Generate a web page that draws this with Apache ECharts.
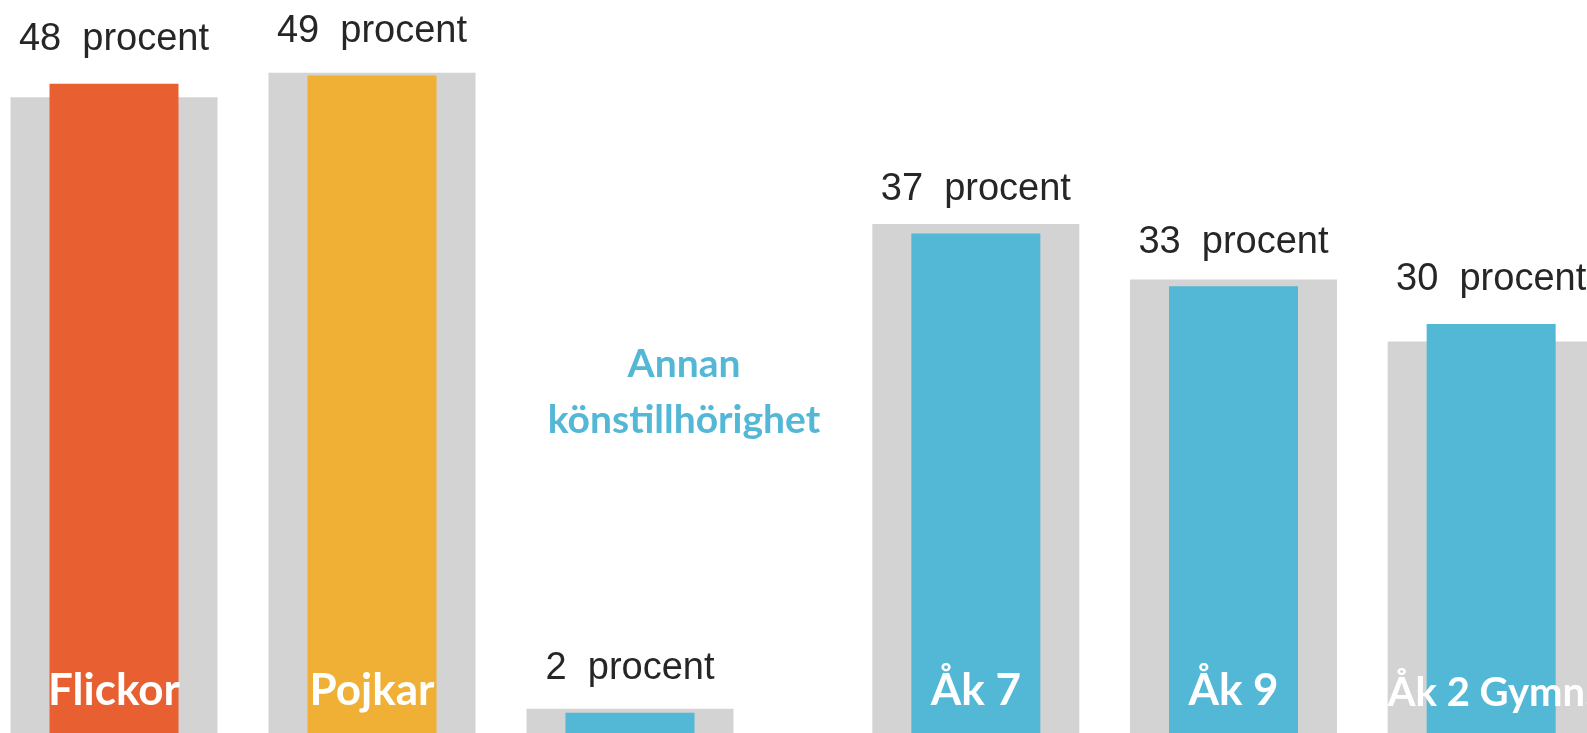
<!DOCTYPE html>
<html>
<head>
<meta charset="utf-8">
<script src="https://cdn.jsdelivr.net/npm/echarts@6/dist/echarts.min.js"></script>
<style>
  html, body { margin: 0; padding: 0; background: #fff; }
  #chart { width: 1587px; height: 733px; }
</style>
</head>
<body>
<div id="chart"></div>
<script>
// kön
const genderLabels = ['Flickor', 'Pojkar', 'Annan\nkönstillhörighet']
const genderValues = [48.1, 48.7, 1.5]
const genderRef = [47.1, 48.9, 1.8]
const genderColors = ['#E86032', '#F0AF35', '#53B7D6']
// årskurs
const gradeLabels = ['Åk 7', 'Åk 9', 'Åk 2 Gymn.']
const gradeValues = [37.0, 33.1, 30.3]
const gradeRef = [37.7, 33.6, 29.0]
const gradeColors = ['#53B7D6', '#53B7D6', '#53B7D6']

const chart = echarts.init(document.getElementById('chart'))

const valueLabel = {
  show: true,
  position: 'top',
  distance: 25,
  fontFamily: 'Liberation Sans',
  fontSize: 38,
  color: '#262626',
  formatter: p => Math.round(p.value) + '  procent'
}

// två x-axlar per grid: grå bakgrund och färgad stapel centreras var för sig
function xAxes (gridIndex, labels, hideIndex) {
  return [
    {
      type: 'category', gridIndex, data: labels, position: 'bottom',
      axisLine: { show: false }, axisTick: { show: false }, axisLabel: { show: false }
    },
    {
      type: 'category', gridIndex, data: labels, position: 'bottom', z: 10,
      axisLine: { show: false }, axisTick: { show: false },
      axisLabel: {
        inside: true,
        interval: 0,
        hideOverlap: false,
        margin: 20,
        color: '#fff',
        fontFamily: 'Lato',
        fontWeight: 'bold',
        fontSize: 44,
        formatter: (v, i) => {
          if (i === hideIndex) return ''
          // långa etiketter lite mindre
          return v.length > 8 ? '{s|' + v + '}' : v
        },
        rich: {
          s: { fontFamily: 'Lato', fontWeight: 'bold', fontSize: 40, color: '#fff' }
        }
      }
    }
  ]
}

function yAxis (gridIndex) {
  return { type: 'value', gridIndex, min: 0, max: 54, show: false, splitLine: { show: false } }
}

function bars (axisStart, yIndex, ref, values, colors) {
  return [
    {
      type: 'bar', xAxisIndex: axisStart, yAxisIndex: yIndex,
      barWidth: 207, itemStyle: { color: '#D3D3D3' },
      data: ref, silent: true
    },
    {
      type: 'bar', xAxisIndex: axisStart + 1, yAxisIndex: yIndex,
      barWidth: 129,
      data: values.map((v, i) => ({ value: v, itemStyle: { color: colors[i] } })),
      label: valueLabel, silent: true
    }
  ]
}

const option = {
  animation: false,
  grid: [
    { left: -15, top: 4, bottom: 0, width: 774, outerBoundsMode: 'none' },
    { left: 847, top: 4, bottom: 0, width: 773, outerBoundsMode: 'none' }
  ],
  xAxis: [...xAxes(0, genderLabels, 2), ...xAxes(1, gradeLabels, -1)],
  yAxis: [yAxis(0), yAxis(1)],
  series: [
    ...bars(0, 0, genderRef, genderValues, genderColors),
    ...bars(2, 1, gradeRef, gradeValues, gradeColors)
  ],
  graphic: [
    {
      type: 'text',
      x: 684,
      y: 336,
      style: {
        text: genderLabels[2],
        align: 'center',
        fill: '#53B7D6',
        font: 'bold 39px Lato',
        lineHeight: 56
      }
    }
  ]
}

chart.setOption(option)
</script>
</body>
</html>
